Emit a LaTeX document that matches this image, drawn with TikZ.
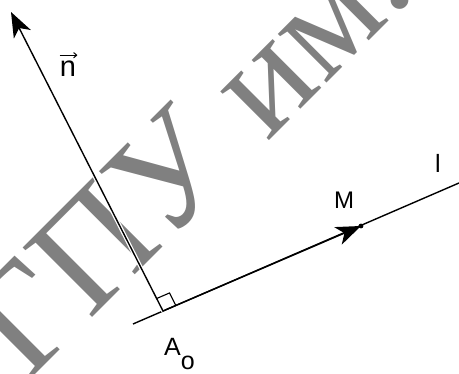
\documentclass[tikz,border=0pt]{standalone}
\usepackage{fontspec}
\setmainfont{Liberation Sans}
\newfontfamily\stampfont{Liberation Serif}
\usetikzlibrary{arrows.meta,calc}
\begin{document}
\begin{tikzpicture}[
    x=1pt, y=-1pt,
    % Define line and label looks locally
    lineStyle/.style={line width=1.4pt, black},
    bigTip/.style={-{Stealth[length=25pt, width=19pt, inset=7pt]}},
    labelStyle/.style={inner sep=0pt, anchor=base},
    stampStyle/.style={color=black!50, inner sep=0pt, font=\stampfont\fontsize{150}{150}\selectfont}
]
    \useasboundingbox (0,0) rectangle (459,374);

    % --- WATERMARK ---
    \node[stampStyle, rotate=45, anchor=base east] (stamp) at (418,-8) {ГПУ им.};

    % --- POINTS ---
    \coordinate (lLeft) at (133,324);
    \coordinate (lRight) at (459,183);
    \coordinate (footA) at (163,311);
    \coordinate (nTip) at (11,12);
    \coordinate (pointM) at (361,226);

    % --- LINE l AND VECTOR n ---
    \draw[lineStyle] (lLeft) -- (lRight);
    \draw[lineStyle, bigTip, preaction={draw=white, line width=4pt, -}] (footA) -- (nTip);
    \draw[lineStyle, bigTip] (footA) -- (pointM);
    \fill (pointM) circle (2.4pt);

    % --- RIGHT ANGLE ---
    \coordinate (sqL) at ($(footA)!14pt!(lRight)$);
    \coordinate (sqN) at ($(footA)!14pt!(nTip)$);
    \draw[line width=1.1pt] (sqL) -- ($(sqL)+(sqN)-(footA)$) -- (sqN);

    % --- LABELS ---
    \node[labelStyle, font=\fontsize{24}{24}\selectfont] (labelM) at (344,209) {M};
    \node[labelStyle, font=\fontsize{25}{25}\selectfont] (labelL) at (438,173) {l};
    \node[labelStyle, font=\fontsize{29}{29}\selectfont] (labelN) at (68,77) {n};
    \draw[line width=1pt, -{To[length=4pt, width=6pt]}] ($(labelN.north west)+(0,-6)$) -- ($(labelN.north east)+(1,-6)$);
    \node[labelStyle, anchor=base west, font=\fontsize{25}{25}\selectfont] (labelA) at (164,356) {A\raisebox{-14pt}{o}};

\end{tikzpicture}
\end{document}
